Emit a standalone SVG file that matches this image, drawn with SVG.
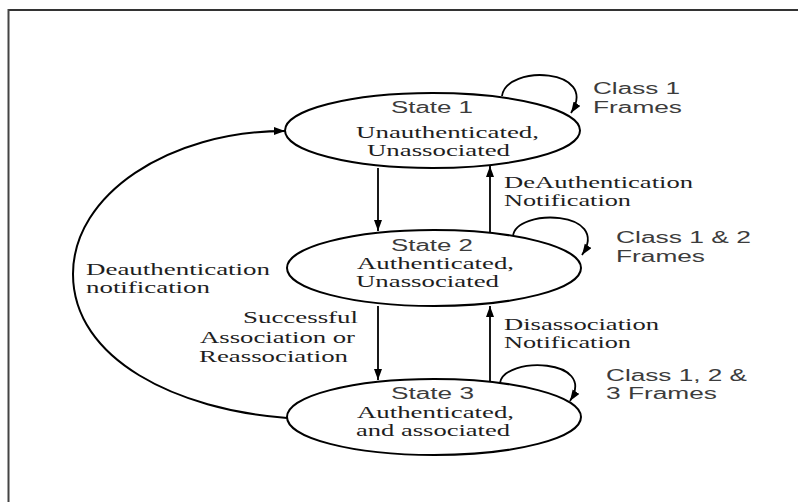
<svg xmlns="http://www.w3.org/2000/svg" width="798" height="502" viewBox="0 0 798 502">
<defs>
<style>
.st{fill:#fff;stroke:#000;stroke-width:2}
.ln{fill:none;stroke:#000;stroke-width:1.8}
.sans{font-family:"Liberation Sans",Arial,sans-serif;font-size:16px;fill:#3c3c3c}
.serif{font-family:"Liberation Serif","Times New Roman",serif;font-size:16px;fill:#1e1e1e}
</style>
<marker id="ah" markerUnits="userSpaceOnUse" markerWidth="12" markerHeight="10" refX="11" refY="4" orient="auto">
<path d="M0,0 L11,4 L0,8 Z" fill="#000"/>
</marker>
</defs>
<rect width="798" height="502" fill="#fff"/>
<g id="frame">
<line x1="8" y1="10" x2="798" y2="10" stroke="#333" stroke-width="2"/>
<line x1="8.5" y1="9" x2="8.5" y2="502" stroke="#444" stroke-width="2"/>
</g>
<g id="connectors">
<line class="ln" x1="378" y1="168" x2="378" y2="231" marker-end="url(#ah)"/>
<line class="ln" x1="490" y1="233" x2="490" y2="166" marker-end="url(#ah)"/>
<line class="ln" x1="378" y1="306" x2="378" y2="380" marker-end="url(#ah)"/>
<line class="ln" x1="490" y1="381" x2="490" y2="306" marker-end="url(#ah)"/>
<path class="ln" d="M 502 96 C 506 64, 600 68, 571 113" marker-end="url(#ah)"/>
<path class="ln" d="M 513 236 C 516 208, 612 210, 582 255" marker-end="url(#ah)"/>
<path class="ln" d="M 500 383 C 504 356, 598 358, 570 401" marker-end="url(#ah)"/>
<path class="ln" style="stroke-width:2" d="M 287 418 C 178 410, 73 360, 73 274 C 73 195, 168 131, 285 131" marker-end="url(#ah)"/>
</g>
<g id="state1">
<ellipse class="st" cx="432.5" cy="130.5" rx="147.5" ry="37.5"/>
<text class="sans" x="391" y="113" textLength="82" lengthAdjust="spacingAndGlyphs">State 1</text>
<text class="serif" x="356" y="138" textLength="183" lengthAdjust="spacingAndGlyphs">Unauthenticated,</text>
<text class="serif" x="367" y="156" textLength="143" lengthAdjust="spacingAndGlyphs">Unassociated</text>
</g>
<g id="state2">
<ellipse class="st" cx="434" cy="268" rx="147" ry="38"/>
<text class="sans" x="391" y="251" textLength="82" lengthAdjust="spacingAndGlyphs">State 2</text>
<text class="serif" x="357" y="269" textLength="157" lengthAdjust="spacingAndGlyphs">Authenticated,</text>
<text class="serif" x="356" y="287" textLength="143" lengthAdjust="spacingAndGlyphs">Unassociated</text>
</g>
<g id="state3">
<ellipse class="st" cx="434" cy="417" rx="147" ry="38"/>
<text class="sans" x="391" y="399" textLength="83" lengthAdjust="spacingAndGlyphs">State 3</text>
<text class="serif" x="357" y="418" textLength="157" lengthAdjust="spacingAndGlyphs">Authenticated,</text>
<text class="serif" x="356" y="436" textLength="154" lengthAdjust="spacingAndGlyphs">and associated</text>
</g>
<g id="labels">
<text class="sans" x="593" y="94" textLength="87" lengthAdjust="spacingAndGlyphs">Class 1</text>
<text class="sans" x="593" y="113" textLength="89" lengthAdjust="spacingAndGlyphs">Frames</text>
<text class="sans" x="616" y="243" textLength="135" lengthAdjust="spacingAndGlyphs">Class 1 &amp; 2</text>
<text class="sans" x="616" y="262" textLength="89" lengthAdjust="spacingAndGlyphs">Frames</text>
<text class="sans" x="606" y="381" textLength="141" lengthAdjust="spacingAndGlyphs">Class 1, 2 &amp;</text>
<text class="sans" x="606" y="399" textLength="111" lengthAdjust="spacingAndGlyphs">3 Frames</text>
<text class="serif" x="504" y="188" textLength="189" lengthAdjust="spacingAndGlyphs">DeAuthentication</text>
<text class="serif" x="504" y="206" textLength="127" lengthAdjust="spacingAndGlyphs">Notification</text>
<text class="serif" x="86" y="275" textLength="184" lengthAdjust="spacingAndGlyphs">Deauthentication</text>
<text class="serif" x="86" y="293" textLength="124" lengthAdjust="spacingAndGlyphs">notification</text>
<text class="serif" x="243" y="323" textLength="115" lengthAdjust="spacingAndGlyphs">Successful</text>
<text class="serif" x="200" y="343" textLength="155" lengthAdjust="spacingAndGlyphs">Association or</text>
<text class="serif" x="199" y="362" textLength="149" lengthAdjust="spacingAndGlyphs">Reassociation</text>
<text class="serif" x="504" y="330" textLength="155" lengthAdjust="spacingAndGlyphs">Disassociation</text>
<text class="serif" x="504" y="348" textLength="127" lengthAdjust="spacingAndGlyphs">Notification</text>
</g>
</svg>
